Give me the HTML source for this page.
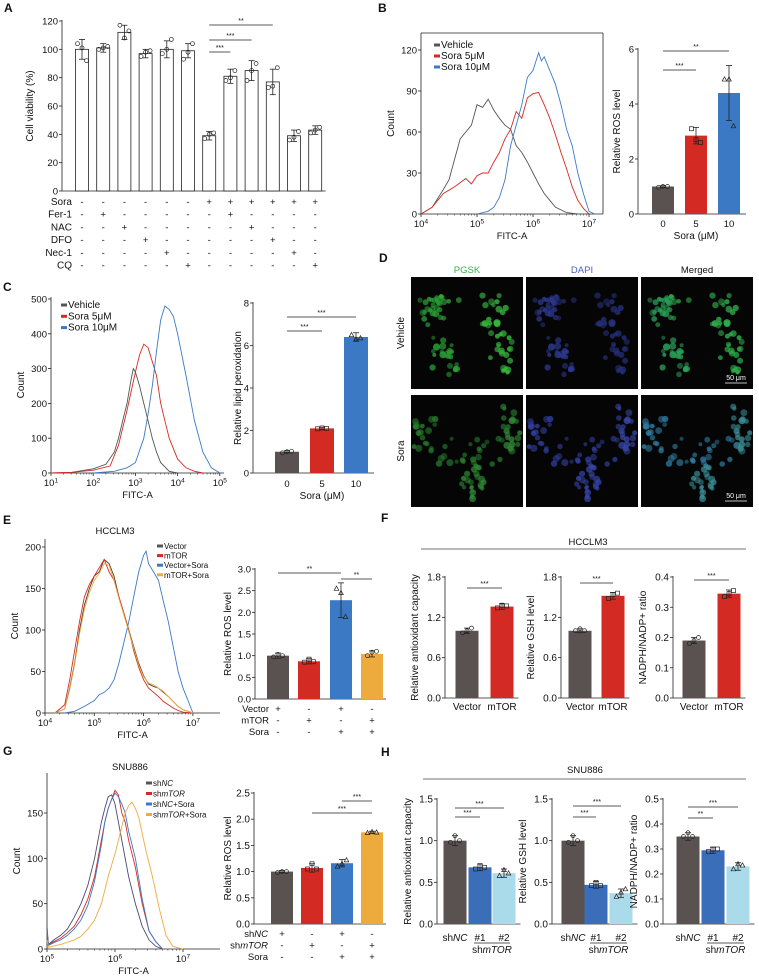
<!DOCTYPE html>
<html><head><meta charset="utf-8"><title>Figure</title>
<style>
html,body{margin:0;padding:0;background:#fff;}
svg{display:block;font-family:"Liberation Sans",Arial,sans-serif;}
</style></head>
<body>
<svg id="fig" width="759" height="979" viewBox="0 0 759 979" xmlns="http://www.w3.org/2000/svg"></svg>
<script>
// ===== Panel A data =====
const aCats=['1','2','3','4','5','6','7','8','9','10','11','12'];
const aValues=[100,101,112,97,100,99,39,81,85,77,39,43];
const aSD=[7,3,5,3,6,5,3,5,7,9,4,3];
const aPts=[[104,101,92],[100,101,102],[117,108,113],[95,98,99],[97,100,107],[93,98,104],[37,40,41],[78,80,85],[78,85,90],[73,74,87],[36,38,42],[41,43,45]];
const aTicks=[0,20,40,60,80,100,120];
const aRowNames=['Sora','Fer-1','NAC','DFO','Nec-1','CQ'];
const aRowSora=[0,0,0,0,0,0,1,1,1,1,1,1];
const aRowFer=[0,1,0,0,0,0,0,1,0,0,0,0];
const aRowNAC=[0,0,1,0,0,0,0,0,1,0,0,0];
const aRowDFO=[0,0,0,1,0,0,0,0,0,1,0,0];
const aRowNec=[0,0,0,0,1,0,0,0,0,0,1,0];
const aRowCQ=[0,0,0,0,0,1,0,0,0,0,0,1];
// ===== Panel B data =====
const bVehLog=[4.0,4.2,4.4,4.5,4.6,4.7,4.8,4.9,5.0,5.1,5.2,5.3,5.4,5.5,5.6,5.7,5.8,5.9,6.0,6.1,6.2,6.3,6.4,6.6,6.8,7.0];
const bVehCnt=[0,5,18,25,40,55,60,65,80,78,84,76,70,65,62,50,45,38,30,22,15,10,5,1,0,0];
const b5Log=[4.0,4.2,4.4,4.6,4.8,4.9,5.0,5.1,5.2,5.3,5.4,5.5,5.6,5.7,5.8,5.9,6.0,6.1,6.2,6.3,6.4,6.5,6.6,6.7,6.8,6.9,7.0];
const b5Cnt=[0,5,15,20,26,22,28,30,30,38,45,55,62,75,70,85,88,89,80,70,58,45,33,20,10,4,0];
const b10Log=[5.0,5.2,5.3,5.4,5.5,5.6,5.7,5.8,5.9,6.0,6.1,6.15,6.2,6.3,6.4,6.5,6.6,6.7,6.8,6.9,7.0,7.1];
const b10Cnt=[0,2,5,12,25,50,65,80,100,105,118,112,115,105,95,80,62,50,30,15,2,0];
const bCats=['0','5','10'];
const bValues=[1.0,2.85,4.4];
const bSD=[0.03,0.3,1.0];
const bPts=[[0.97,1.0,1.0],[3.1,2.7,2.6],[4.9,4.9,3.2]];
// ===== Panel C data =====
const cVehLog=[1.0,1.5,2.0,2.3,2.5,2.6,2.7,2.8,2.9,2.95,3.0,3.1,3.2,3.3,3.4,3.5,3.6,3.8,4.0];
const cVehCnt=[0,2,12,25,60,100,150,200,270,300,290,250,200,150,100,60,30,5,0];
const c5Log=[1.0,1.5,2.0,2.4,2.6,2.8,3.0,3.1,3.2,3.3,3.4,3.5,3.6,3.7,3.8,4.0,4.2,4.4,4.6];
const c5Cnt=[0,2,8,20,80,180,290,340,370,360,320,280,200,150,100,40,15,5,0];
const c10Log=[2.0,2.5,2.8,3.0,3.2,3.3,3.4,3.5,3.6,3.7,3.8,3.9,4.0,4.1,4.2,4.4,4.6,4.8,5.0];
const c10Cnt=[0,5,15,30,100,170,250,350,440,480,470,450,400,340,280,150,60,15,0];
const cCats=['0','5','10'];
const cValues=[1.0,2.1,6.4];
const cSD=[0.05,0.05,0.2];
const cPts=[[0.95,1.0,1.02],[2.08,2.12,2.1],[6.5,6.3,6.35]];
// ===== Panel E data =====
const eVecLog=[4.2,4.4,4.5,4.6,4.7,4.8,4.9,5.0,5.1,5.2,5.3,5.4,5.5,5.6,5.7,5.8,5.9,6.0,6.1,6.2,6.3,6.4,6.5,6.6,6.7,6.8,6.9,7.0];
const eVecCnt=[0,5,30,60,100,130,150,165,170,185,180,165,140,120,100,80,60,45,35,32,30,25,20,14,8,4,2,0];
const eMtorLog=[4.2,4.4,4.5,4.6,4.7,4.8,4.9,5.0,5.1,5.2,5.3,5.4,5.5,5.6,5.7,5.8,5.9,6.0,6.1,6.2,6.3,6.4,6.5,6.6,6.7,6.8,7.0];
const eMtorCnt=[0,10,40,75,110,140,155,165,175,185,170,160,140,120,100,75,55,40,30,25,20,14,10,6,3,1,0];
const eVSLog=[4.4,4.6,4.8,5.0,5.1,5.2,5.3,5.4,5.5,5.6,5.7,5.8,5.9,6.0,6.05,6.1,6.2,6.3,6.4,6.5,6.6,6.7,6.8,6.9,7.0];
const eVSCnt=[0,2,8,15,22,25,30,40,60,85,110,140,170,190,195,180,170,160,135,110,80,50,30,15,0];
const eMSLog=[4.2,4.4,4.5,4.6,4.7,4.8,4.9,5.0,5.1,5.2,5.3,5.4,5.5,5.6,5.7,5.8,5.9,6.0,6.1,6.2,6.3,6.4,6.5,6.6,6.7,6.8,6.9,7.0];
const eMSCnt=[0,5,28,58,95,125,145,160,168,180,178,160,138,118,98,78,58,44,36,34,30,26,20,14,8,4,2,0];
const eCats=['Vector','mTOR','Vector+Sora','mTOR+Sora'];
const eValues=[1.0,0.87,2.28,1.04];
const eSD=[0.06,0.06,0.4,0.07];
const ePts=[[0.97,1.03,1.0],[0.85,0.92,0.86],[2.55,2.45,1.9],[1.0,1.08,1.1]];
// ===== Panel F data =====
const fCats=['Vector','mTOR'];
const f1Values=[1.0,1.36];const f1SD=[0.04,0.04];const f1Pts=[[0.97,1.0,1.04],[1.34,1.38,1.37]];
const f2Values=[1.0,1.52];const f2SD=[0.03,0.05];const f2Pts=[[1.0,1.03,1.0],[1.48,1.54,1.56]];
const f3Values=[0.19,0.345];const f3SD=[0.01,0.012];const f3Pts=[[0.18,0.19,0.2],[0.335,0.345,0.355]];
// ===== Panel G data =====
const gNCLog=[5.0,5.02,5.1,5.2,5.3,5.4,5.5,5.6,5.7,5.75,5.8,5.85,5.9,5.95,6.0,6.05,6.1,6.2,6.3,6.4,6.5,6.6,6.7];
const gNCCnt=[25,5,10,15,22,35,50,70,100,120,140,155,168,170,160,140,120,80,50,25,10,3,0];
const gTLog=[5.0,5.02,5.1,5.2,5.3,5.4,5.5,5.6,5.7,5.75,5.8,5.85,5.9,5.95,6.0,6.05,6.1,6.15,6.2,6.3,6.4,6.5,6.6,6.7];
const gTCnt=[20,5,8,12,18,25,38,55,80,100,120,140,155,165,175,170,150,140,120,90,50,20,8,0];
const gNSLog=[5.0,5.02,5.1,5.2,5.3,5.4,5.5,5.6,5.7,5.75,5.8,5.85,5.9,5.95,6.0,6.05,6.1,6.15,6.2,6.3,6.4,6.5,6.6,6.7];
const gNSCnt=[20,4,7,10,15,22,32,48,75,95,115,140,155,165,172,168,160,150,130,100,55,20,8,0];
const gTSLog=[5.0,5.02,5.2,5.4,5.5,5.6,5.7,5.8,5.9,6.0,6.05,6.1,6.15,6.2,6.25,6.3,6.35,6.45,6.55,6.65,6.75,6.85,7.0];
const gTSCnt=[10,2,5,10,14,22,32,50,80,105,120,135,150,158,162,155,145,110,80,45,15,3,0];
const gCats=['shNC','shmTOR','shNC+Sora','shmTOR+Sora'];
const gValues=[1.0,1.07,1.16,1.75];
const gSD=[0.02,0.08,0.07,0.02];
const gPts=[[0.98,1.0,1.0],[1.05,1.15,1.05],[1.1,1.15,1.22],[1.74,1.76,1.75]];
// ===== Panel H data =====
const hCats=['shNC','#1','#2'];
const h1Values=[1.0,0.68,0.61];const h1SD=[0.06,0.04,0.05];const h1Pts=[[0.98,1.06,1.0],[0.66,0.7,0.68],[0.58,0.65,0.61]];
const h2Values=[1.0,0.47,0.37];const h2SD=[0.06,0.04,0.05];const h2Pts=[[0.98,1.06,1.0],[0.46,0.5,0.46],[0.33,0.38,0.42]];
const h3Values=[0.35,0.295,0.23];const h3SD=[0.015,0.012,0.015];const h3Pts=[[0.35,0.365,0.35],[0.29,0.3,0.3],[0.22,0.24,0.235]];

const NS='http://www.w3.org/2000/svg';
const svg=document.getElementById('fig');
const GREY='#5a5151',RED='#d42a24',BLUE='#3b79c4',ORANGE='#eeab3d',DBLUE='#3a6eb9',LBLUE='#a9dbea';
const FS=9.5;
function mk(tag,attrs,name,parent,text){
  const el=document.createElementNS(NS,tag);
  for(const k in attrs) el.setAttribute(k,attrs[k]);
  
  
  if(text!=null) el.textContent=text;
  (parent||svg).appendChild(el);
  return el;
}
function txt(x,y,s,name,opt){
  opt=opt||{};
  const a={x:x,y:y,'font-size':opt.fs||FS,'text-anchor':opt.anchor||'middle',fill:opt.fill||'#111'};
  if(opt.rot!=null) a.transform='rotate('+opt.rot+' '+x+' '+y+')';
  if(opt.bold) a['font-weight']='bold';
  return mk('text',a,name,opt.parent,s);
}
function line(x1,y1,x2,y2,name,opt){
  opt=opt||{};
  return mk('line',{x1:x1,y1:y1,x2:x2,y2:y2,stroke:opt.stroke||'#222','stroke-width':opt.sw||0.8},name,opt.parent);
}
function marker(x,y,shape,g,name){
  if(shape==='s') return mk('rect',{x:x-2,y:y-2,width:4,height:4,fill:'none',stroke:'#222','stroke-width':0.7},name,g);
  if(shape==='t') return mk('polygon',{points:(x)+','+(y-2.4)+' '+(x-2.3)+','+(y+1.8)+' '+(x+2.3)+','+(y+1.8),fill:'none',stroke:'#222','stroke-width':0.7},name,g);
  return mk('circle',{cx:x,cy:y,r:2,fill:'none',stroke:'#222','stroke-width':0.7},name,g);
}
function barChart(o){
  const g=mk('g',{},o.name);
  const y=v=>o.y0-(v/o.max)*(o.y0-o.yTop);
  const xEnd=o.centers[o.centers.length-1]+o.w/2+ (o.pad||6);
  line(o.ax,o.y0,o.ax,o.yTop-1,'y-axis',{parent:g});
  line(o.ax,o.y0,xEnd,o.y0,'x-axis',{parent:g});
  o.ticks.forEach((t,i)=>{
    line(o.ax-3,y(t),o.ax,y(t),'y-tick',{parent:g});
    txt(o.ax-4,y(t)+3.5,o.tickLabels[i],'y-tick-label',{anchor:'end',parent:g,fs:o.tfs||FS});
  });
  o.values.forEach((v,i)=>{
    const cx=o.centers[i];
    mk('rect',{x:cx-o.w/2,y:y(v),width:o.w,height:o.y0-y(v),fill:o.colors[i],stroke:o.stroke||'none','stroke-width':0.8},'bar-'+i,g);
    const top=y(v+o.sd[i]),bot=y(v-o.sd[i]);
    line(cx,top,cx,bot,'error-bar',{parent:g,sw:0.8});
    line(cx-3,top,cx+3,top,'error-cap',{parent:g,sw:0.8});
    line(cx-3,bot,cx+3,bot,'error-cap',{parent:g,sw:0.8});
    const sh=o.shapes?o.shapes[i]:'c';
    o.pts[i].forEach((p,j)=>marker(cx+(j-1)*4.5,y(p),sh,g,'data-point'));
  });
  if(o.ytitle) txt(o.titleX,(o.y0+o.yTop)/2,o.ytitle,'y-axis-title',{rot:-90,parent:g,fs:o.titleFs||FS});
  (o.sig||[]).forEach(s=>{
    line(o.centers[s[0]],s[2],o.centers[s[1]],s[2],'significance-line',{parent:g,sw:0.7});
    txt((o.centers[s[0]]+o.centers[s[1]])/2,s[2]-2,s[3],'significance-stars',{parent:g,fs:7});
  });
  return {g:g,y:y};
}
function hist(o){
  const g=mk('g',{},o.name);
  const x=l=>o.x0+(l-o.logMin)*o.dec;
  const y=c=>o.y0-c*o.ppu;
  line(o.x0,o.y0,o.x0,o.yTop,'y-axis',{parent:g});
  line(o.x0,o.y0,o.xEnd,o.y0,'x-axis',{parent:g});
  if(o.box){line(o.x0,o.yTop,o.xEnd,o.yTop,'frame-top',{parent:g});line(o.xEnd,o.yTop,o.xEnd,o.y0,'frame-right',{parent:g});}
  o.yTicks.forEach(t=>{line(o.x0-3,y(t),o.x0,y(t),'y-tick',{parent:g});txt(o.x0-4,y(t)+3.5,String(t),'y-tick-label',{anchor:'end',parent:g});});
  for(let d=o.logMin;d<=o.logMax;d++){
    line(x(d),o.y0,x(d),o.y0+3,'x-tick',{parent:g});
    const t=mk('text',{x:x(d),y:o.y0+13,'font-size':FS,'text-anchor':'middle',fill:'#111'},'x-tick-label',g);
    t.appendChild(document.createTextNode('10'));
    const sp=document.createElementNS(NS,'tspan');sp.setAttribute('dy','-3.5');sp.setAttribute('font-size','6.5');sp.textContent=String(d);t.appendChild(sp);
    if(d<o.logMax){for(let k=2;k<10;k++){const xx=x(d+Math.log10(k));if(xx<=o.xEnd) line(xx,o.y0,xx,o.y0+1.6,'x-minor-tick',{parent:g,sw:0.5});}}
  }
  txt((o.x0+o.xEnd)/2,o.y0+25,'FITC-A','x-axis-title',{parent:g});
  txt(o.x0-27,(o.y0+o.yTop)/2,'Count','y-axis-title',{rot:-90,parent:g,fs:10});
  o.series.forEach((s,si)=>{
    let d='';
    s.logs.forEach((l,i)=>{d+=(i?'L':'M')+x(l).toFixed(1)+' '+y(s.counts[i]).toFixed(1);});
    mk('path',{d:d,fill:'none',stroke:s.color,'stroke-width':0.9},'histogram-'+s.key,g);
  });
  return g;
}
function legend(x,y0,dy,items,fs){
  const g=mk('g',{},'legend');
  items.forEach((it,i)=>{
    const yy=y0+i*dy;
    mk('rect',{x:x,y:yy-3.5,width:6,height:3,fill:it.color},'legend-swatch',g);
    const t=mk('text',{x:x+7,y:yy+1,'font-size':fs,fill:'#111'},'legend-entry',g);
    it.parts.forEach(p=>{const sp=document.createElementNS(NS,'tspan');if(p[1])sp.setAttribute('font-style','italic');sp.textContent=p[0];t.appendChild(sp);});
  });
}
function panelLetter(x,y,s){txt(x,y,s,'panel-label-'+s.toLowerCase(),{anchor:'start',fs:12,bold:true});}

// ===== A =====
panelLetter(4,12,'A');
const aCenters=aCats.map((c,i)=>82+i*21.2);
barChart({name:'panel-a-bar-chart',ax:62,y0:191,yTop:21,max:120,ticks:aTicks,tickLabels:aTicks.map(String),centers:aCenters,w:13,values:aValues,sd:aSD,pts:aPts,colors:aValues.map(()=>'#fff'),stroke:'#222',ytitle:'Cell viability (%)',titleX:33,titleFs:10,pad:4,
  sig:[[6,7,52,'***'],[6,8,40,'***'],[6,9,25,'**']]});
const aRows=[aRowSora,aRowFer,aRowNAC,aRowDFO,aRowNec,aRowCQ];
aRows.forEach((row,r)=>{
  const yy=205+r*12.7;
  txt(72,yy,aRowNames[r],'treatment-row-label',{anchor:'end',fs:10});
  row.forEach((v,i)=>txt(aCenters[i],yy,v?'+':'-','treatment-sign',{}));
});

// ===== B =====
panelLetter(378,12,'B');
hist({name:'panel-b-histogram',x0:421,xEnd:603,yTop:33,y0:214,logMin:4,logMax:7,dec:56,ppu:41/30,yTicks:[0,30,60,90,120],box:true,
  series:[{key:'vehicle',logs:bVehLog,counts:bVehCnt,color:'#555'},{key:'sora-5',logs:b5Log,counts:b5Cnt,color:RED},{key:'sora-10',logs:b10Log,counts:b10Cnt,color:BLUE}]});
legend(434,47,11,[{color:'#555',parts:[['Vehicle']]},{color:RED,parts:[['Sora 5μM']]},{color:BLUE,parts:[['Sora 10μM']]}],10);
const bC=[663,696,729];
barChart({name:'panel-b-bar-chart',ax:638,y0:214,yTop:49,max:6,ticks:[0,2,4,6],tickLabels:['0','2','4','6'],centers:bC,w:22,values:bValues,sd:bSD,pts:bPts,colors:[GREY,RED,BLUE],shapes:['c','s','t'],ytitle:'Relative ROS level',titleX:620,titleFs:10,
  sig:[[0,1,70,'***'],[0,2,51,'**']]});
bCats.forEach((c,i)=>txt(bC[i],227,c,'x-tick-label'));
txt(696,239,'Sora (μM)','x-axis-title',{fs:10});

// ===== C =====
panelLetter(3,291,'C');
hist({name:'panel-c-histogram',x0:51,xEnd:224,yTop:297,y0:473,logMin:1,logMax:5,dec:42.2,ppu:174/500,yTicks:[0,100,200,300,400,500],
  series:[{key:'vehicle',logs:cVehLog,counts:cVehCnt,color:'#555'},{key:'sora-5',logs:c5Log,counts:c5Cnt,color:RED},{key:'sora-10',logs:c10Log,counts:c10Cnt,color:BLUE}]});
legend(61,307,11.3,[{color:'#555',parts:[['Vehicle']]},{color:RED,parts:[['Sora 5μM']]},{color:BLUE,parts:[['Sora 10μM']]}],10);
const cC=[287,322,356];
barChart({name:'panel-c-bar-chart',ax:253,y0:473,yTop:303,max:8,ticks:[0,2,4,6,8],tickLabels:['0','2','4','6','8'],centers:cC,w:24,values:cValues,sd:cSD,pts:cPts,colors:[GREY,RED,BLUE],shapes:['c','s','t'],ytitle:'Relative lipid peroxidation',titleX:241,titleFs:10,
  sig:[[0,1,331,'***'],[0,2,317,'***']]});
cCats.forEach((c,i)=>txt(cC[i],487,c,'x-tick-label'));
txt(322,499,'Sora (μM)','x-axis-title',{fs:10});

// ===== D (micrographs) =====
panelLetter(379,262,'D');
txt(467,273,'PGSK','column-label-pgsk',{fill:'#3fae49'});
txt(582,273,'DAPI','column-label-dapi',{fill:'#4a5fc0'});
txt(697,273,'Merged','column-label-merged');
txt(404,333,'Vehicle','row-label-vehicle',{rot:-90,fs:10});
txt(404,451,'Sora','row-label-sora',{rot:-90,fs:10});
let seed=7;function rnd(){seed=(seed*16807)%2147483647;return seed/2147483647;}
const vehClusters=[[0.5,0.3,0.35,0.15],[0.3,0.7,0.12,0.2],[0.8,0.68,0.1,0.18],[0.18,0.28,0.1,0.1]];
const soraClusters=[[0.55,0.5,0.3,0.12],[0.55,0.78,0.1,0.15],[0.12,0.35,0.1,0.15],[0.9,0.3,0.08,0.2]];
const cols=[411,526,641],rows=[277,395],IW=112;
const palettes=[[['#37b83f','#2aa035'],['#26307a','#2d3890'],['#30b04a','#2aa35a']],[['#267a2c','#2e8a35'],['#2f3d9a','#3846a8'],['#2f7aa0','#3a8e9a']]];
rows.forEach((ry,r)=>{
  cols.forEach((cx,c)=>{
    const g=mk('g',{},'micrograph');
    mk('rect',{x:cx,y:ry,width:IW,height:IW,fill:'#050505'},'micrograph-background',g);
    seed=r?91:7;
    const cl=r?soraClusters:vehClusters;
    for(let k=0;k<90;k++){
      const q=cl[k%cl.length];
      const px=cx+IW*(q[0]+(rnd()-0.5)*2*q[2]);
      const py=ry+IW*(q[1]+(rnd()-0.5)*2*q[3]);
      const rr=2+rnd()*1.6;
      if(px>cx+3&&px<cx+IW-3&&py>ry+3&&py<ry+IW-3)
        mk('circle',{cx:px.toFixed(1),cy:py.toFixed(1),r:rr.toFixed(1),fill:palettes[r][c][k%2],opacity:(0.5+rnd()*0.35).toFixed(2)},'cell',g);
    }
    if(c===2){line(cx+IW-28,ry+IW-6,cx+IW-6,ry+IW-6,'scale-bar',{stroke:'#fff',sw:0.8,parent:g});txt(cx+IW-17,ry+IW-9,'50 μm','scale-bar-label',{fill:'#fff',fs:7,parent:g});}
  });
});

// ===== E =====
panelLetter(3,524,'E');
txt(115,534,'HCCLM3','chart-title-e');
hist({name:'panel-e-histogram',x0:45,xEnd:220,yTop:539,y0:713,logMin:4,logMax:7,dec:49.3,ppu:166/200,yTicks:[0,50,100,150,200],
  series:[{key:'vector',logs:eVecLog,counts:eVecCnt,color:'#4a3a30'},{key:'mtor',logs:eMtorLog,counts:eMtorCnt,color:RED},{key:'vector-sora',logs:eVSLog,counts:eVSCnt,color:BLUE},{key:'mtor-sora',logs:eMSLog,counts:eMSCnt,color:ORANGE}]});
legend(157,548,9.6,[{color:'#555',parts:[['Vector']]},{color:RED,parts:[['mTOR']]},{color:BLUE,parts:[['Vector+Sora']]},{color:ORANGE,parts:[['mTOR+Sora']]}],8);
const eC=[278,309,341,372];
barChart({name:'panel-e-bar-chart',ax:255,y0:699,yTop:569,max:3,ticks:[0,0.5,1,1.5,2,2.5,3],tickLabels:['0.0','0.5','1.0','1.5','2.0','2.5','3.0'],centers:eC,w:22,values:eValues,sd:eSD,pts:ePts,colors:[GREY,RED,BLUE,ORANGE],shapes:['c','s','t','c'],ytitle:'Relative ROS level',titleX:231,titleFs:10,pad:3,
  sig:[[0,2,573,'**'],[2,3,579,'**']]});
[['Vector',[1,0,1,0]],['mTOR',[0,1,0,1]],['Sora',[0,0,1,1]]].forEach((row,r)=>{
  const yy=712+r*11.5;
  txt(269,yy,row[0],'treatment-row-label',{anchor:'end'});
  row[1].forEach((v,i)=>txt(eC[i],yy,v?'+':'-','treatment-sign'));
});

// ===== F =====
panelLetter(381,522,'F');
txt(588,545,'HCCLM3','group-title-f');
line(421,549,746,549,'group-line-f',{stroke:'#444',sw:0.8});
const fCfg=[{ax:445,c:[467,502],v:f1Values,sd:f1SD,p:f1Pts,max:1.8,t:[0,0.6,1.2,1.8],tl:['0.0','0.6','1.2','1.8'],title:'Relative antioxidant capacity',sig:588},
            {ax:561,c:[580,613],v:f2Values,sd:f2SD,p:f2Pts,max:1.8,t:[0,0.6,1.2,1.8],tl:['0.0','0.6','1.2','1.8'],title:'Relative GSH level',sig:583},
            {ax:673,c:[694,729],v:f3Values,sd:f3SD,p:f3Pts,max:0.4,t:[0,0.1,0.2,0.3,0.4],tl:['0.0','0.1','0.2','0.3','0.4'],title:'NADPH/NADP+ ratio',sig:580}];
fCfg.forEach((f,k)=>{
  barChart({name:'panel-f-bar-chart-'+(k+1),ax:f.ax,y0:698,yTop:577,max:f.max,ticks:f.t,tickLabels:f.tl,centers:f.c,w:23,values:f.v,sd:f.sd,pts:f.p,colors:[GREY,RED],shapes:['c','s'],ytitle:f.title,titleX:f.ax-27,titleFs:10,tfs:10,pad:5,
    sig:[[0,1,f.sig,'***']]});
  fCats.forEach((c,i)=>txt(f.c[i],710,c,'x-tick-label',{fs:10}));
});

// ===== G =====
panelLetter(3,755,'G');
txt(130,770,'SNU886','chart-title-g');
hist({name:'panel-g-histogram',x0:47,xEnd:220,yTop:773,y0:949,logMin:5,logMax:7,dec:68,ppu:136/150,yTicks:[0,50,100,150],
  series:[{key:'shnc',logs:gNCLog,counts:gNCCnt,color:'#4a4a70'},{key:'shmtor',logs:gTLog,counts:gTCnt,color:RED},{key:'shnc-sora',logs:gNSLog,counts:gNSCnt,color:BLUE},{key:'shmtor-sora',logs:gTSLog,counts:gTSCnt,color:ORANGE}]});
legend(146,785,10.5,[{color:'#555',parts:[['sh'],['NC',1]]},{color:RED,parts:[['sh'],['mTOR',1]]},{color:BLUE,parts:[['sh'],['NC',1],['+Sora']]},{color:ORANGE,parts:[['sh'],['mTOR',1],['+Sora']]}],8);
const gC=[282,312,342,372];
barChart({name:'panel-g-bar-chart',ax:254,y0:924,yTop:793,max:2.5,ticks:[0,0.5,1,1.5,2,2.5],tickLabels:['0.0','0.5','1.0','1.5','2.0','2.5'],centers:gC,w:22,values:gValues,sd:gSD,pts:gPts,colors:[GREY,RED,BLUE,ORANGE],shapes:['c','s','t','t'],ytitle:'Relative ROS level',titleX:231,titleFs:10,pad:3,tfs:10,
  sig:[[2,3,801,'***'],[1,3,813,'***']]});
[[['sh',0],['NC',1],[1,0,1,0]],[['sh',0],['mTOR',1],[0,1,0,1]],[['Sora',0],null,[0,0,1,1]]].forEach((row,r)=>{
  const yy=937+r*11.5;
  const t=mk('text',{x:268,y:yy,'font-size':FS,'text-anchor':'end',fill:'#111'},'treatment-row-label');
  [row[0],row[1]].forEach(p=>{if(!p)return;const sp=document.createElementNS(NS,'tspan');if(p[1])sp.setAttribute('font-style','italic');sp.textContent=p[0];t.appendChild(sp);});
  row[2].forEach((v,i)=>txt(gC[i],yy,v?'+':'-','treatment-sign'));
});

// ===== H =====
panelLetter(381,756,'H');
txt(585,773,'SNU886','group-title-h');
line(423,779,746,779,'group-line-h',{stroke:'#444',sw:0.8});
const hCfg=[{ax:437,c:[455,480,504],v:h1Values,sd:h1SD,p:h1Pts,max:1.5,t:[0,0.5,1,1.5],tl:['0.0','0.5','1.0','1.5'],title:'Relative antioxidant capacity',s:[[0,1,817,'***'],[0,2,808,'***']]},
            {ax:552,c:[573,596,621],v:h2Values,sd:h2SD,p:h2Pts,max:1.5,t:[0,0.5,1,1.5],tl:['0.0','0.5','1.0','1.5'],title:'Relative GSH level',s:[[0,1,817,'***'],[0,2,806,'***']]},
            {ax:663,c:[688,713,738],v:h3Values,sd:h3SD,p:h3Pts,max:0.5,t:[0,0.1,0.2,0.3,0.4,0.5],tl:['0.0','0.1','0.2','0.3','0.4','0.5'],title:'NADPH/NADP+ ratio',s:[[0,1,818,'**'],[0,2,807,'***']]}];
hCfg.forEach((h,k)=>{
  barChart({name:'panel-h-bar-chart-'+(k+1),ax:h.ax,y0:924,yTop:799,max:h.max,ticks:h.t,tickLabels:h.tl,centers:h.c,w:23,values:h.v,sd:h.sd,pts:h.p,colors:[GREY,DBLUE,LBLUE],shapes:['c','s','t'],ytitle:h.title,titleX:h.ax-26,titleFs:10,pad:5,tfs:10,sig:h.s});
  const t=mk('text',{x:h.c[0],y:941,'font-size':10,'text-anchor':'middle',fill:'#111'},'x-tick-label');
  t.appendChild(document.createTextNode('sh'));const it=document.createElementNS(NS,'tspan');it.setAttribute('font-style','italic');it.textContent='NC';t.appendChild(it);
  txt(h.c[1],941,hCats[1],'x-tick-label',{fs:10});
  txt(h.c[2],941,hCats[2],'x-tick-label',{fs:10});
  line(h.c[1]-6,943,h.c[2]+6,943,'group-underline',{sw:0.7});
  const t2=mk('text',{x:(h.c[1]+h.c[2])/2,y:953,'font-size':10,'text-anchor':'middle',fill:'#111'},'x-group-label');
  t2.appendChild(document.createTextNode('sh'));const it2=document.createElementNS(NS,'tspan');it2.setAttribute('font-style','italic');it2.textContent='mTOR';t2.appendChild(it2);
});
</script>
</body></html>
